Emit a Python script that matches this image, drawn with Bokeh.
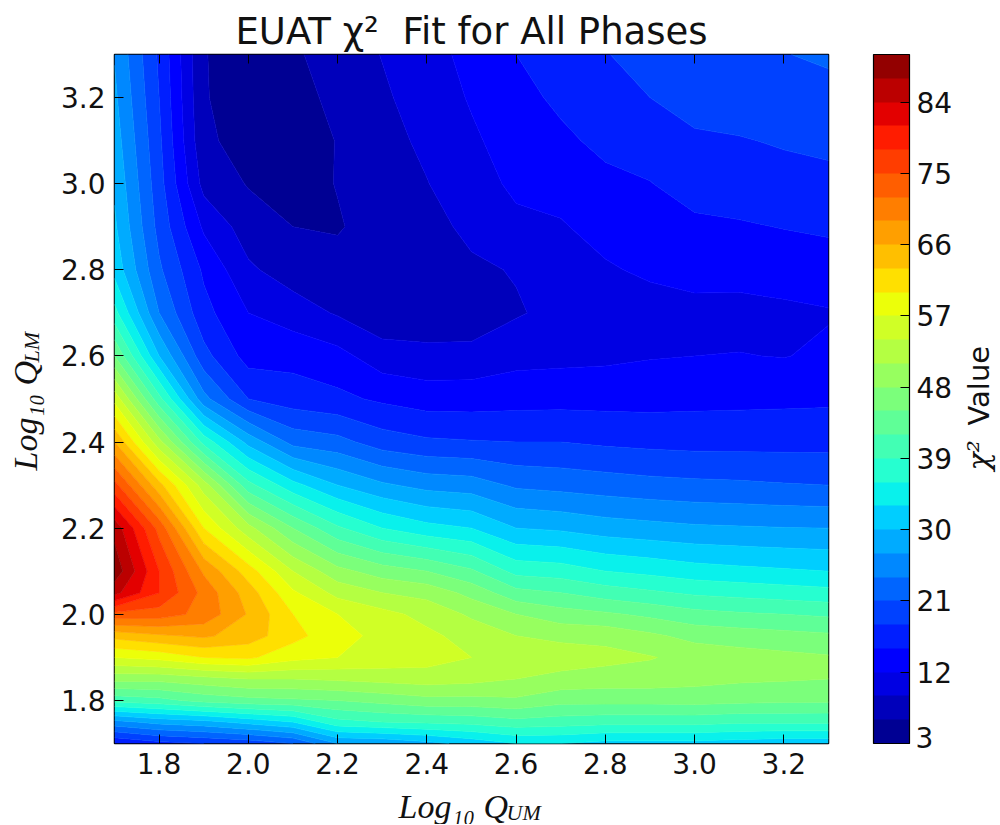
import numpy as np
from bokeh.plotting import figure
from bokeh.core.properties import value
from bokeh.models import (ColorBar, FixedTicker, LinearAxis, LinearColorMapper,
                          NumeralTickFormatter, Range1d)
from bokeh.embed import file_html
from bokeh.resources import INLINE

x_q_um = [1.7,1.8,1.9,2.0,2.1,2.2,2.3,2.4,2.5,2.6,2.7,2.8,2.9,3.0,3.1,3.2,3.3]
y_q_lm = [1.7,1.75,1.8,1.85,1.9,1.95,2.0,2.05,2.1,2.2,2.3,2.4,2.5,2.6,2.7,2.8,2.9,3.0,3.1,3.2,3.3]
levels = list(range(3, 91, 3))
tick_values = [3,12,21,30,39,48,57,66,75,84]
axis_ticks = [1.8,2.0,2.2,2.4,2.6,2.8,3.0,3.2]

c170 = [15,26,40,49,57,64,74,85,89,86,76,66,56,45,37,32,30.5,29.5,28.5,27.6,26.8]
c180 = [17,28,41,49,58,65.5,73.5,78,78,74,64,52,40,30,24,21.5,20,19.2,18.6,18,17.5]
c190 = [18,29,43,50,60,66.5,71,71,68.5,60,52.5,38,25,19,16,14.5,11.5,8,6.6,6.2,6.1]
c200 = [19,31,44,51,60.5,64.5,65.7,64.5,61.5,52,40,29,18,13.8,12,9.5,7.5,5.8,4.8,4.6,5]
c210 = [21,33,44.5,51,58,61,60,57.5,54,45,34,23,16.5,14,10.5,7.5,6,5,4.7,5,5.5]
c220 = [27,38,45,51.5,57,58,57,53,49,39.5,30,22,15.7,13,8.7,6.8,5.8,6.1,6.1,6.7,7.5]
c230 = [27.5,39,46,52,56,56.2,55,51,46.5,36,27.5,19.5,14.5,10.3,7,6.8,7,7.5,8,8.6,9.1]
c240 = [29,39.5,47,52.5,55.3,54.7,53,50,45,34,26,18.5,13.6,9.9,7,7.5,8,8.9,9.6,10.2,11]
c250 = [31,40,47,52,54,52.8,50.5,47,42.5,33,25.5,18.2,13.6,10,7,8.5,9.7,10.7,11.5,12.3,12.8]
c260 = [33,41,47.5,51,53.2,51,48,43,38,30,23.5,18,13.9,11,8.7,9.2,11.3,12.6,13.4,14.2,15]
c270 = [33,40.5,46,50,52.7,50.2,46.3,42,37.5,29.5,23,18,14,11.2,9.9,10.6,11.7,13.2,14.5,15.5,16.4]
c280 = [32,40,46,49.5,52,50,45.5,40.5,36,28.5,22.5,17.5,14,11.4,10.2,11.6,13.2,14.4,15.6,17,17.9]
c290 = [32,40,46,49.5,51.2,48.6,44.3,39.5,35.2,28,22,17.2,14,11.8,10.5,12.6,13,14.9,16.4,18,18.8]
c300 = [32,40,46.2,49,50,47,43,38.5,34.3,27.5,21.7,17,14.2,12,10.8,13.4,14.4,16.2,17.6,19,19.8]
c310 = [31.5,39.5,45.8,48.5,49.3,46.5,42.4,38,33.8,27.3,21.5,17,14.3,12.1,11,13.1,14.7,16.5,17.8,19.6,20.4]
c320 = [31,39.5,45.6,48.3,48.8,46,42,37.5,33.4,27.1,21.2,17,14.4,11.9,11.4,13.3,15.1,16.9,18.3,19.9,20.9]
c330 = [31,39.5,45.5,48,48.3,45.5,41.5,37,33,27,21,17,14.5,12.5,11.8,13.5,15.5,17.3,18.6,20,21.5]
z = np.array([c170,c180,c190,c200,c210,c220,c230,c240,c250,c260,c270,c280,c290,c300,c310,c320,c330]).T


def jet(f):
    r = np.interp(f, [0, .35, .66, .89, 1], [0, 0, 1, 1, .5])
    g = np.interp(f, [0, .125, .375, .64, .91, 1], [0, 0, 1, 1, 0, 0])
    b = np.interp(f, [0, .11, .34, .65, 1], [.5, 1, 1, 0, 0])
    return "#%02x%02x%02x" % (int(r*255), int(g*255), int(b*255))


mids = [(a + b) / 2 for a, b in zip(levels[:-1], levels[1:])]
palette = [jet((m - levels[0]) / (levels[-1] - levels[0])) for m in mids]

# frame geometry in page pixels of the reference
FX0, FX1, FY0, FY1 = 114, 828, 54, 743
def dx(px): return 1.7 + (px - FX0) / (FX1 - FX0) * 1.6
def dy(py): return 1.7 + (FY1 - py) / (FY1 - FY0) * 1.6

p = figure(width=998, height=819, frame_width=FX1-FX0, frame_height=FY1-FY0,
           x_range=Range1d(1.7, 3.3), y_range=Range1d(1.7, 3.3),
           output_backend="svg", toolbar_location=None,
           min_border_left=FX0, min_border_top=16, min_border_right=170, min_border_bottom=81,
           margin=(5, 0, 0, 0),
           title="EUAT χ²\u00a0\u00a0Fit for All Phases")
p.title.text_font = "DejaVu Sans"
p.title.text_font_size = "37px"
p.title.text_font_style = "normal"
p.title.align = "center"
p.title.text_color = "#111111"
p.title.offset = 0
p.title.standoff = 4
p.grid.visible = False
p.outline_line_color = "black"
p.outline_line_width = 1.5

p.contour(x_q_um, y_q_lm, z, levels=levels, fill_color=palette,
          line_color=palette + [palette[-1]], line_width=0.8)

for ax in [p.xaxis[0], p.yaxis[0]]:
    ax.ticker = FixedTicker(ticks=axis_ticks)
    ax.formatter = NumeralTickFormatter(format="0.0")
    ax.major_tick_in = 9
    ax.major_tick_out = 0
    ax.minor_tick_line_color = None
    ax.major_label_text_font = "DejaVu Sans"
    ax.major_label_text_font_size = "28px"
    ax.major_label_text_color = "#111111"
    ax.axis_line_color = None
    ax.major_label_standoff = 9

p.add_layout(LinearAxis(ticker=FixedTicker(ticks=axis_ticks), major_tick_in=9, major_tick_out=0,
                        minor_tick_line_color=None, axis_line_color=None,
                        major_label_text_color=None, major_label_text_font_size="1px",
                        major_label_standoff=0), "above")

mapper = LinearColorMapper(palette=palette, low=levels[0], high=levels[-1])
cb = ColorBar(color_mapper=mapper, ticker=FixedTicker(ticks=tick_values),
              major_label_overrides={3: ""}, width=36, height=FY1-FY0,
              padding=0, margin=0, location=(45, 0), bar_line_color="black", bar_line_width=1.2,
              major_tick_line_color="black", major_tick_in=9, major_tick_out=0,
              minor_tick_line_color=None, label_standoff=7,
              major_label_text_font="DejaVu Sans", major_label_text_font_size="28px",
              major_label_text_color="#111111", background_fill_color=None, border_line_color=None)
p.add_layout(cb, "right")


def note(text, px, py, size, font="Liberation Serif", style="italic", angle=0, base="alphabetic"):
    p.text(x=[dx(px)], y=[dy(py)], text=[text], text_font=value(font), text_font_style=style,
           text_font_size=value(size), angle=np.deg2rad(angle), text_align="left",
           text_baseline=base, text_color="#111111", level="overlay")


note("Log₁₀ Q", 398, 806, "34px")
note("UM", 506, 812, "22px")
note("Log₁₀ Q", 25, 470, "34px", angle=90)
note("LM", 31, 362, "22px", angle=90)
note("3", 915, 737, "28px", font="DejaVu Sans", style="normal", base="middle")
note("χ²", 978, 470, "30px", angle=90, font="DejaVu Serif")
note("Value", 978, 425, "29px", font="DejaVu Sans", style="normal", angle=90)

open("out.html", "w").write(file_html(p, INLINE))
